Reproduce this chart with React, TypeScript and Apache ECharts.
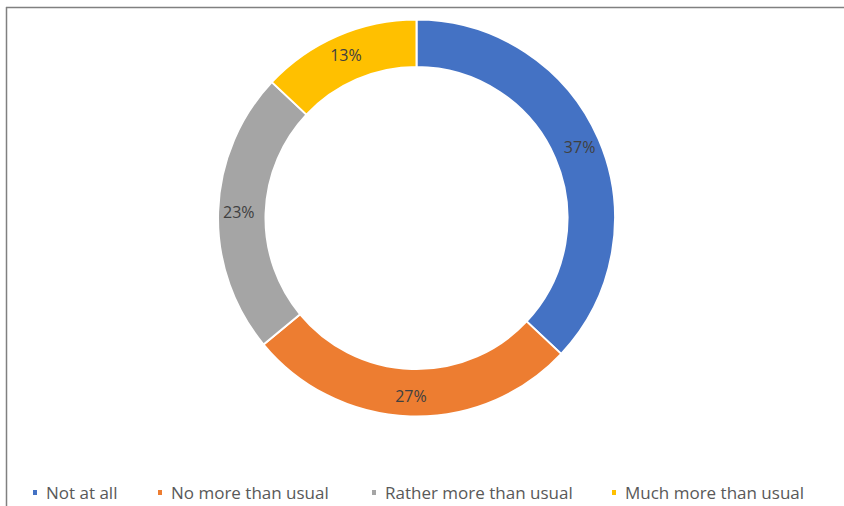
import React, { useEffect, useRef } from "react";
import * as echarts from "echarts";

const categories = ["Not at all", "No more than usual", "Rather more than usual", "Much more than usual"];
const values = [37, 27, 23, 13];
const colors = ["#4472C4", "#ED7D31", "#A5A5A5", "#FFC000"];
const legendLefts = [31, 156, 370, 610];

export default function App() {
  const ref = useRef<HTMLDivElement>(null);
  useEffect(() => {
    if (!ref.current) return;
    const chart = echarts.init(ref.current, undefined, { renderer: "svg" });
    const data = categories.map((c, i) => ({ name: c, value: values[i], itemStyle: { color: colors[i] } }));
    chart.setOption({
      animation: false,
      backgroundColor: "#fff",
      legend: categories.map((c, i) => ({
        data: [c],
        left: legendLefts[i],
        top: 484,
        padding: 0,
        icon: "rect",
        itemWidth: 6,
        itemHeight: 7,
        textStyle: { color: "#595959", fontSize: 17, fontFamily: "Open Sans", padding: [0, 0, 0, 3] },
        selectedMode: false,
      })),
      graphic: [
        { type: "line", shape: { x1: 6, y1: 7.5, x2: 844, y2: 7.5 }, style: { stroke: "#808080", lineWidth: 1.5 } },
        { type: "line", shape: { x1: 6.5, y1: 7, x2: 6.5, y2: 506 }, style: { stroke: "#808080", lineWidth: 1.5 } },
      ],
      series: [
        {
          type: "pie",
          center: [416.5, 218],
          radius: [151, 198.5],
          startAngle: 90,
          clockwise: true,
          data,
          itemStyle: { borderColor: "#fff", borderWidth: 2 },
          label: {
            show: true,
            position: "inside",
            formatter: "{d}%",
            color: "#404040",
            fontSize: 16,
            fontFamily: "Open Sans",
          },
          labelLine: { show: false },
          emphasis: { disabled: true },
        },
      ],
    });
    return () => chart.dispose();
  }, []);
  return <div ref={ref} style={{ width: 844, height: 506, position: "absolute", left: 0, top: 0 }} />;
}
